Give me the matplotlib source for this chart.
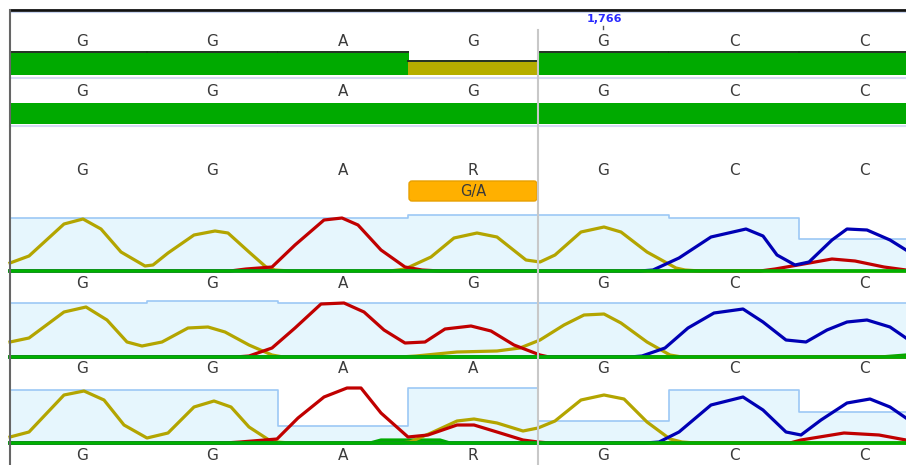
import matplotlib.pyplot as plt
from matplotlib.patches import FancyBboxPatch

W, H = 906, 465

# base call positions (scan units) and calls per row
base_pos = [82, 212, 343, 473, 603, 734, 864]
base_width = 130.4
ref_calls = ["G", "G", "A", "G", "G", "C", "C"]
cons_calls = ["G", "G", "A", "G", "G", "C", "C"]
mixed_calls = ["G", "G", "A", "R", "G", "C", "C"]
trace1_calls = ["G", "G", "A", "G", "G", "C", "C"]
trace2_calls = ["G", "G", "A", "A", "G", "C", "C"]
trace3_calls = ["G", "G", "A", "R", "G", "C", "C"]
agreement = [1, 1, 1, 0, 1, 1, 1]
snp_label = "G/A"
position_label = "1,766"

# trace 1
t1_g_x = [10, 29, 64, 83, 101, 121, 145, 153, 168, 194, 215, 228, 249, 266, 275, 290,
          390, 405, 431, 454, 477, 497, 526, 540, 555, 581, 604, 621, 647, 676, 685, 700, 906]
t1_g_y = [8, 15, 47, 52, 42, 19, 5, 6, 18, 36, 40, 38, 19, 4, 1, 0,
          0, 2, 14, 33, 38, 34, 11, 9, 16, 39, 44, 39, 19, 3, 1, 0, 0]
t1_a_x = [10, 230, 246, 272, 295, 324, 342, 358, 381, 405, 422, 440, 760, 775, 798, 832, 855, 884, 906]
t1_a_y = [0, 0, 2, 4, 26, 51, 53, 46, 21, 4, 1, 0, 0, 2, 6, 12, 10, 4, 1]
t1_c_x = [10, 640, 653, 679, 711, 746, 763, 777, 795, 809, 832, 847, 867, 890, 906]
t1_c_y = [0, 0, 1, 13, 34, 42, 35, 16, 6, 9, 31, 42, 41, 31, 21]
t1_q_x = [10, 408, 669, 799, 906]
t1_q_y = [53, 56, 53, 32, 32]

# trace 2
t2_g_x = [10, 29, 64, 86, 107, 127, 142, 162, 188, 208, 225, 249, 272, 283, 400, 416, 457,
          497, 520, 540, 564, 584, 604, 621, 647, 670, 682, 906]
t2_g_y = [15, 19, 45, 50, 37, 15, 11, 15, 29, 30, 25, 12, 2, 0, 0, 1, 5,
          6, 9, 17, 32, 42, 43, 34, 15, 2, 0, 0]
t2_a_x = [10, 235, 249, 272, 295, 321, 344, 364, 384, 405, 425, 445, 471, 491, 514, 540, 549, 906]
t2_a_y = [0, 0, 1, 9, 29, 53, 54, 45, 27, 14, 15, 28, 31, 26, 12, 2, 0, 0]
t2_c_x = [10, 630, 642, 665, 688, 714, 743, 763, 786, 806, 827, 847, 867, 890, 906]
t2_c_y = [0, 0, 1, 9, 29, 44, 48, 35, 17, 15, 27, 35, 37, 30, 19]
t2_t_x = [10, 880, 906]
t2_t_y = [0, 0, 2]
t2_q_x = [10, 147, 278, 906]
t2_q_y = [54, 56, 54, 54]

# trace 3
t3_g_x = [10, 29, 64, 84, 104, 124, 147, 168, 194, 214, 231, 249, 269, 277, 290, 400, 410,
          431, 457, 474, 497, 523, 538, 555, 581, 604, 624, 647, 670, 682, 695, 906]
t3_g_y = [6, 11, 48, 52, 43, 18, 5, 10, 36, 42, 36, 16, 3, 1, 0, 0, 1,
          10, 22, 24, 20, 12, 15, 22, 43, 48, 44, 21, 4, 1, 0, 0]
t3_a_x = [10, 225, 240, 277, 298, 324, 347, 361, 381, 408, 428, 457, 474, 497, 523, 538, 550,
          790, 801, 844, 879, 906]
t3_a_y = [0, 0, 1, 4, 25, 46, 55, 55, 30, 6, 8, 18, 18, 11, 3, 1, 0,
          0, 3, 10, 8, 3]
t3_c_x = [10, 645, 659, 679, 711, 743, 763, 786, 801, 821, 847, 870, 890, 906]
t3_c_y = [0, 0, 1, 11, 38, 46, 33, 11, 8, 23, 40, 44, 36, 25]
t3_t_x = [10, 370, 381, 440, 450, 906]
t3_t_y = [0, 0, 3, 3, 0, 0]
t3_q_x = [10, 278, 408, 538, 669, 799, 906]
t3_q_y = [53, 17, 55, 22, 53, 31, 31]

COL_G = "#b3a500"
COL_A = "#c00000"
COL_C = "#0000b4"
COL_T = "#00aa00"
GREEN = "#00aa00"
OLIVE = "#b5ad00"
TEXT = "#3a3a3a"


def px_axes(fig, left, top, right, bottom):
    return fig.add_axes([left / W, 1 - bottom / H, (right - left) / W, (bottom - top) / H])


fig = plt.figure(figsize=(W / 100, H / 100), dpi=100)
fig.patch.set_facecolor("white")

traces = [
    (271, t1_q_x, t1_q_y, [(t1_g_x, t1_g_y, COL_G), (t1_a_x, t1_a_y, COL_A), (t1_c_x, t1_c_y, COL_C)]),
    (357, t2_q_x, t2_q_y, [(t2_t_x, t2_t_y, COL_T), (t2_g_x, t2_g_y, COL_G), (t2_a_x, t2_a_y, COL_A),
                          (t2_c_x, t2_c_y, COL_C)]),
    (443, t3_q_x, t3_q_y, [(t3_t_x, t3_t_y, COL_T), (t3_g_x, t3_g_y, COL_G), (t3_a_x, t3_a_y, COL_A),
                          (t3_c_x, t3_c_y, COL_C)]),
]

for baseline, qx, qy, series in traces:
    ax = px_axes(fig, 10, baseline - 62, 906, baseline)
    ax.set_xlim(10, 906)
    ax.set_ylim(0, 62)
    ax.axis("off")
    ax.fill_between(qx, 0, qy, step="post", color="#e6f6fd", linewidth=0)
    ax.step(qx, qy, where="post", color="#9cc8f5", linewidth=1.2)
    for xs, ys, col in series:
        ax.plot(xs, ys, color=col, linewidth=2.3, solid_joinstyle="round", clip_on=False, zorder=3)
    # baseline sits over the flat parts of the traces
    ax.axhline(0, color="#00b000", linewidth=2.6, clip_on=False, zorder=4)

# overlay: bars, calls, borders
ov = fig.add_axes([0, 0, 1, 1], zorder=5)
ov.set_xlim(0, W)
ov.set_ylim(H, 0)
ov.axis("off")
ov.patch.set_alpha(0)

# agreement bar: full green where calls agree, shorter olive where they differ
edges = [10] + [(a + b) / 2 for a, b in zip(base_pos[:-1], base_pos[1:])] + [W]
for i, a in enumerate(agreement):
    x0, x1 = edges[i], edges[i + 1]
    top = 53 if a else 62
    ov.bar(x0, 75 - top, width=x1 - x0 + 0.6, bottom=top, align="edge",
           color=GREEN if a else OLIVE, linewidth=0)
    ov.hlines(top - 0.5, x0 - 0.6, x1 + 0.6, color="#203020", linewidth=1.4)

ov.bar(10, 21, width=W - 10, bottom=103, align="edge", color=GREEN, linewidth=0)
ov.plot([10, W], [78, 78], color="#d6daf4", linewidth=1.5)
ov.plot([10, W], [126, 126], color="#d6daf4", linewidth=1.5)

rows = [(42, ref_calls), (92, cons_calls), (170, mixed_calls), (283, trace1_calls),
        (368, trace2_calls), (455, trace3_calls)]
for y, calls in rows:
    for x, c in zip(base_pos, calls):
        ov.text(x, y, c, ha="center", va="center", fontsize=11, color=TEXT, family="DejaVu Sans")

snp_idx = mixed_calls.index("R")
box = FancyBboxPatch((edges[snp_idx] + 1, 181), edges[snp_idx + 1] - edges[snp_idx] - 2, 20,
                     boxstyle="round,pad=0,rounding_size=3", facecolor="#ffb000",
                     edgecolor="#e8a000", linewidth=1)
ov.add_patch(box)
ov.text(base_pos[snp_idx], 191, snp_label, ha="center", va="center", fontsize=10.5, color=TEXT)

ov.plot([538, 538], [30, H], color="#c8c8c8", linewidth=1.5)
ov.text(base_pos[4] + 1, 19, position_label, ha="center", va="center", fontsize=8,
        color="#2a2aff", fontweight="bold")
ov.plot([base_pos[4], base_pos[4]], [26, 29], color="#555555", linewidth=1)

ov.plot([10, W], [10, 10], color="#111111", linewidth=2)
ov.plot([10, W], [11.8, 11.8], color="#c8d4f0", linewidth=0.8)
ov.plot([10, 10], [10, H], color="#666666", linewidth=1.5)

fig.savefig("out.png", dpi=100, facecolor="white")
